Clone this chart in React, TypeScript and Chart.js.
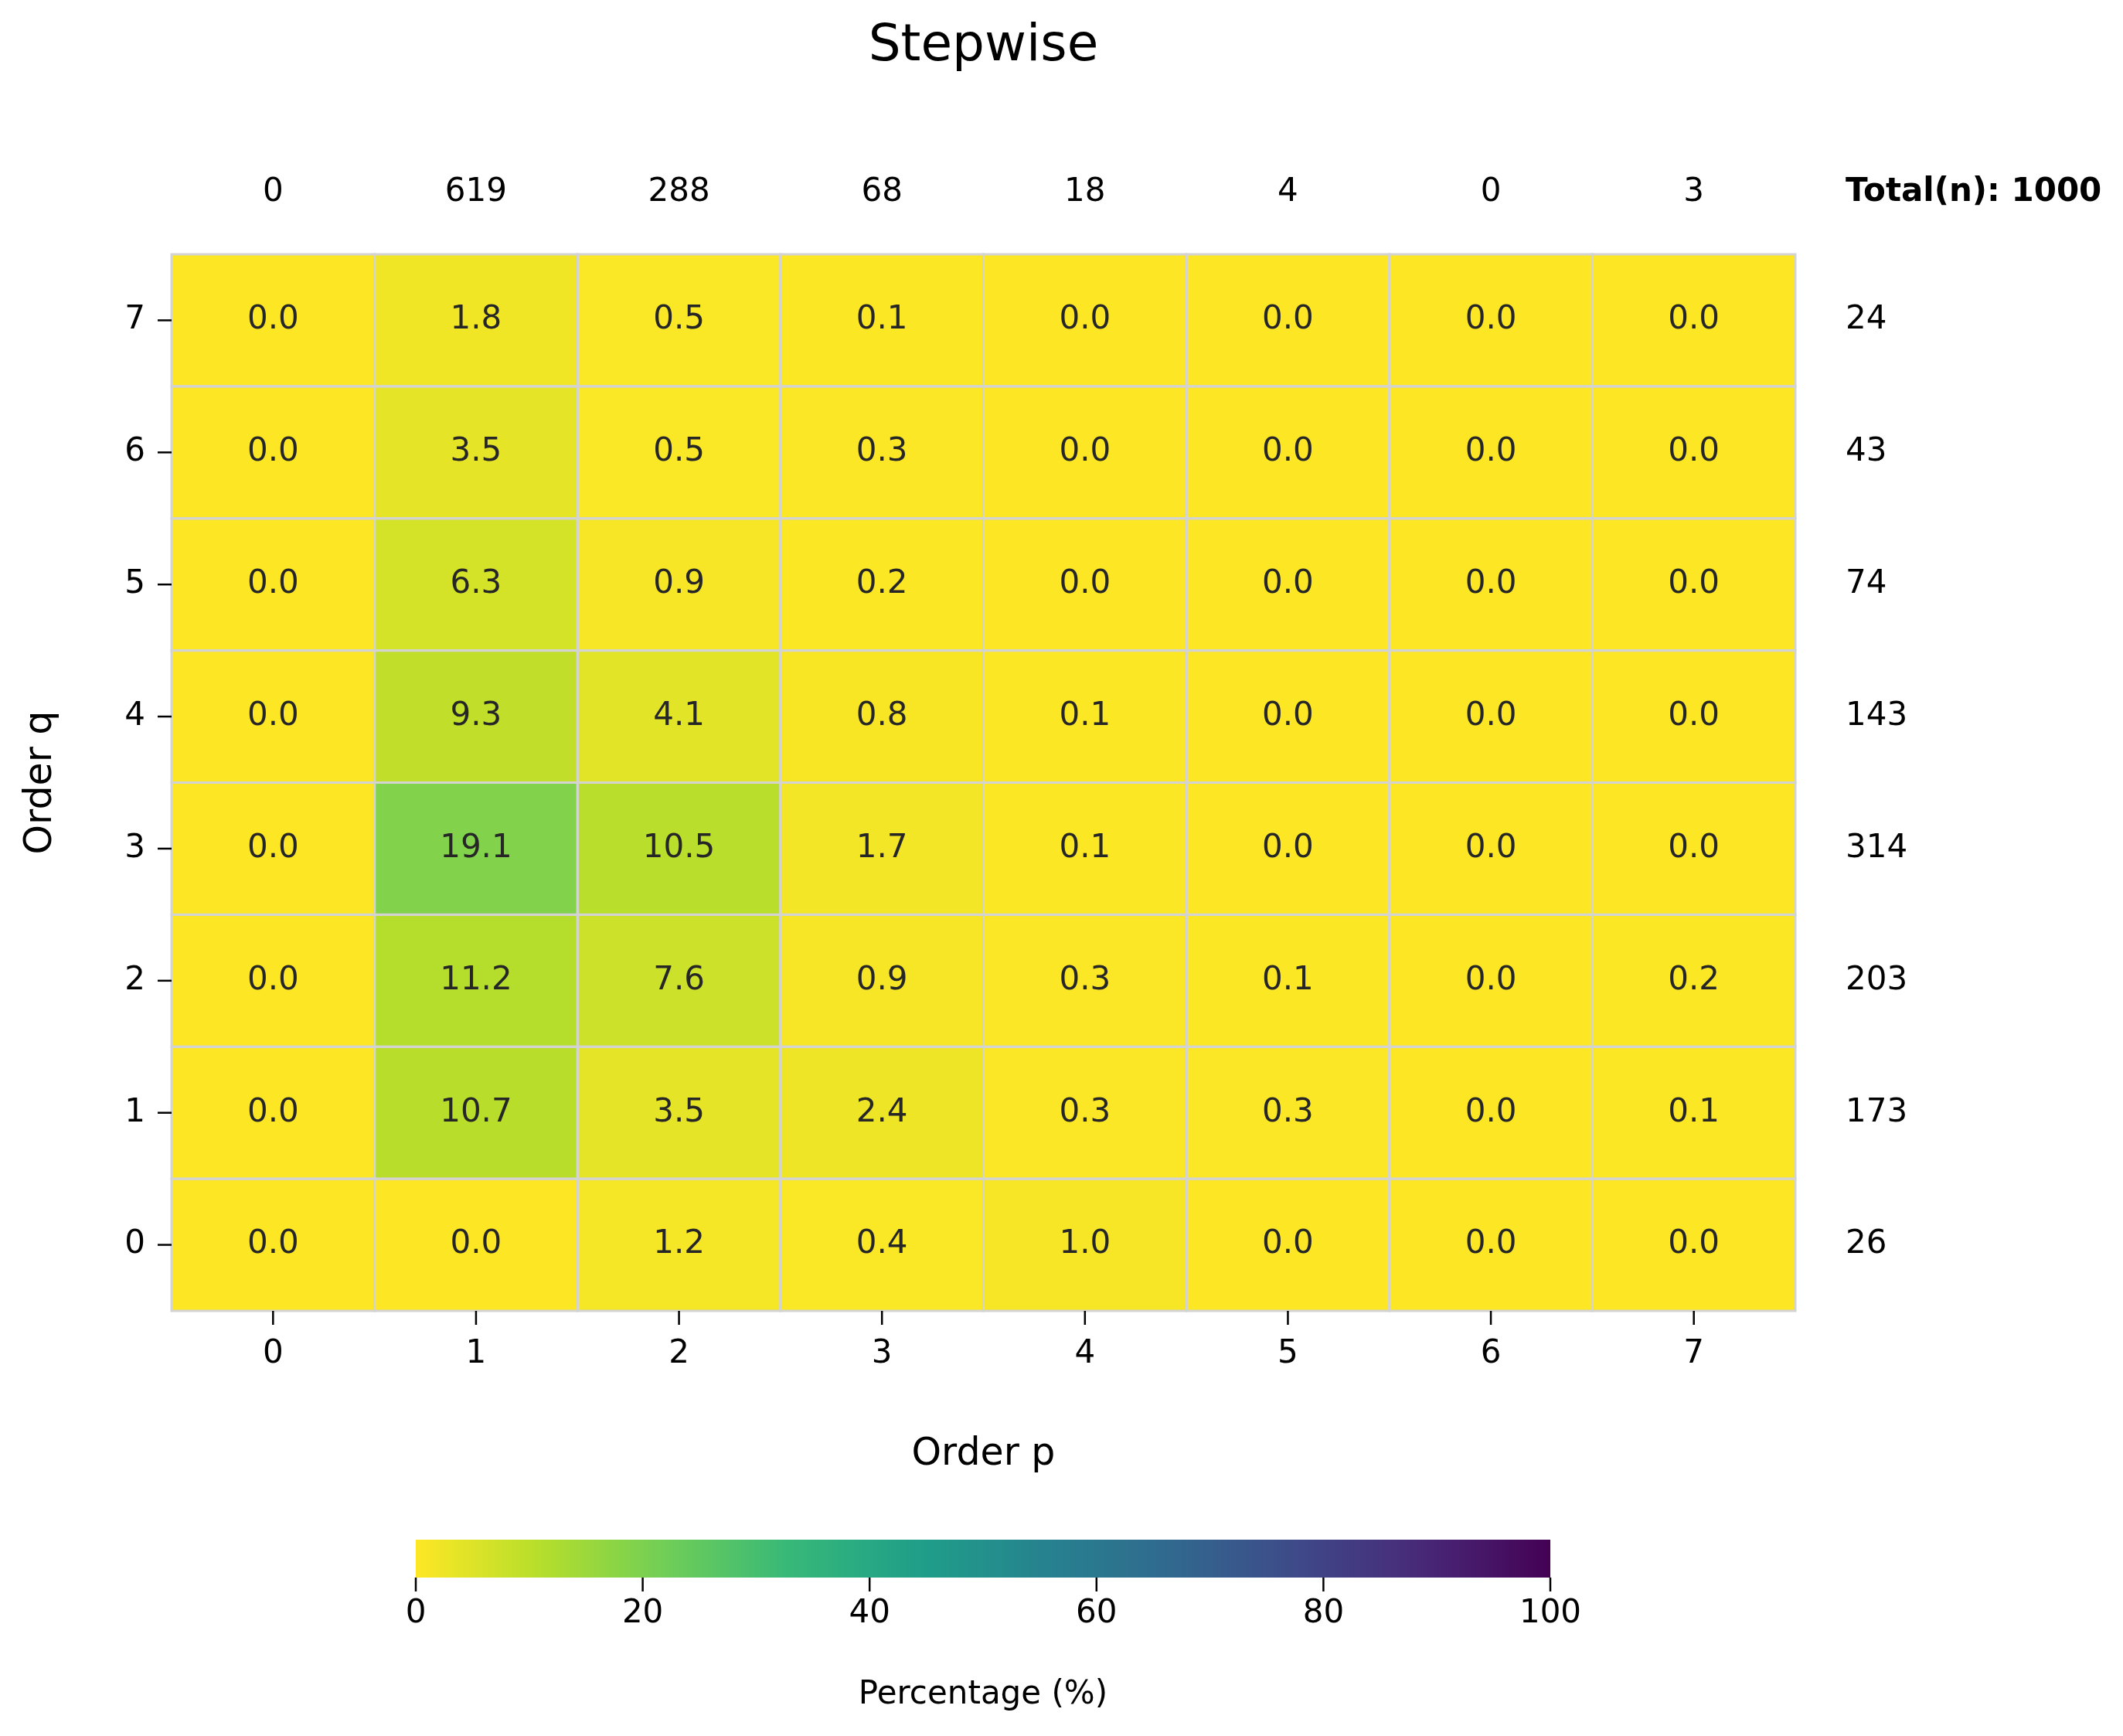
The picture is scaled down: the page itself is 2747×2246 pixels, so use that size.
import React, { useEffect, useRef } from "react";
import { Chart, registerables } from "chart.js";
Chart.register(...registerables);

const pLabels = ["0", "1", "2", "3", "4", "5", "6", "7"];
const qLabels = ["0", "1", "2", "3", "4", "5", "6", "7"];
// rows indexed by q (0..7), columns by p (0..7), percentages
const q0 = [0.0, 0.0, 1.2, 0.4, 1.0, 0.0, 0.0, 0.0];
const q1 = [0.0, 10.7, 3.5, 2.4, 0.3, 0.3, 0.0, 0.1];
const q2 = [0.0, 11.2, 7.6, 0.9, 0.3, 0.1, 0.0, 0.2];
const q3 = [0.0, 19.1, 10.5, 1.7, 0.1, 0.0, 0.0, 0.0];
const q4 = [0.0, 9.3, 4.1, 0.8, 0.1, 0.0, 0.0, 0.0];
const q5 = [0.0, 6.3, 0.9, 0.2, 0.0, 0.0, 0.0, 0.0];
const q6 = [0.0, 3.5, 0.5, 0.3, 0.0, 0.0, 0.0, 0.0];
const q7 = [0.0, 1.8, 0.5, 0.1, 0.0, 0.0, 0.0, 0.0];
const rows = [q0, q1, q2, q3, q4, q5, q6, q7];
const colTotals = [0, 619, 288, 68, 18, 4, 0, 3];
const rowTotals = [26, 173, 203, 314, 143, 74, 43, 24];
const grandTotal = 1000;
const cbTicks = [0, 20, 40, 60, 80, 100];

const VIR = ["#440154", "#482878", "#3e4989", "#31688e", "#26828e", "#1f9e89", "#35b779", "#6ece58", "#b5de2b", "#fde725"];
function hex(h: string) { return [1, 3, 5].map(i => parseInt(h.slice(i, i + 2), 16)); }
function viridis(t: number) {
  t = Math.max(0, Math.min(1, t));
  const f = t * (VIR.length - 1);
  const i = Math.min(Math.floor(f), VIR.length - 2);
  const a = hex(VIR[i]), b = hex(VIR[i + 1]);
  const r = f - i;
  const c = a.map((v, k) => Math.round(v + (b[k] - v) * r));
  return `rgb(${c[0]},${c[1]},${c[2]})`;
}
const colorFor = (v: number) => viridis(1 - v / 100);

const W = 2747, H = 2246;
const FONT = "'DejaVu Sans', sans-serif";

const heatPlugin = {
  id: "heat",
  afterDraw(chart: any) {
    const ctx = chart.ctx;
    const xs = chart.scales.x, ys = chart.scales.y;
    ctx.save();
    rows.forEach((row, q) => {
      row.forEach((v, p) => {
        const x0 = xs.getPixelForValue(p - 0.5), x1 = xs.getPixelForValue(p + 0.5);
        const y0 = ys.getPixelForValue(q + 0.5), y1 = ys.getPixelForValue(q - 0.5);
        ctx.fillStyle = colorFor(v);
        ctx.fillRect(x0, y0, x1 - x0, y1 - y0);
      });
    });
    ctx.strokeStyle = "#d3d3d3";
    ctx.lineWidth = 3;
    rows.forEach((row, q) => {
      row.forEach((v, p) => {
        const x0 = xs.getPixelForValue(p - 0.5), x1 = xs.getPixelForValue(p + 0.5);
        const y0 = ys.getPixelForValue(q + 0.5), y1 = ys.getPixelForValue(q - 0.5);
        ctx.strokeRect(x0, y0, x1 - x0, y1 - y0);
      });
    });
    ctx.fillStyle = "#262626";
    ctx.font = `42px ${FONT}`;
    ctx.textAlign = "center";
    ctx.textBaseline = "middle";
    rows.forEach((row, q) => row.forEach((v, p) => {
      ctx.fillText(v.toFixed(1), xs.getPixelForValue(p), ys.getPixelForValue(q));
    }));
    const area = chart.chartArea;
    ctx.fillStyle = "#000";
    colTotals.forEach((t, p) => ctx.fillText(String(t), xs.getPixelForValue(p), 249));
    ctx.textAlign = "left";
    rowTotals.forEach((t, q) => ctx.fillText(String(t), 2388, ys.getPixelForValue(q)));
    ctx.font = `bold 42px ${FONT}`;
    ctx.fillText(`Total(n): ${grandTotal}`, 2388, 249);
    ctx.font = `42px ${FONT}`;
    ctx.strokeStyle = "#000";
    ctx.lineWidth = 2.5;
    ctx.textAlign = "center";
    ctx.textBaseline = "middle";
    pLabels.forEach((l, p) => {
      const x = xs.getPixelForValue(p);
      ctx.beginPath(); ctx.moveTo(x, area.bottom); ctx.lineTo(x, area.bottom + 18); ctx.stroke();
      ctx.fillText(l, x, 1752);
    });
    ctx.textAlign = "right";
    qLabels.forEach((l, q) => {
      const y = ys.getPixelForValue(q);
      ctx.beginPath(); ctx.moveTo(area.left, y); ctx.lineTo(area.left - 18, y); ctx.stroke();
      ctx.fillText(l, 188, y);
    });
    ctx.font = `49px ${FONT}`;
    ctx.textAlign = "center";
    ctx.fillText("Order p", (area.left + area.right) / 2, 1882);
    ctx.save();
    ctx.translate(53, (area.top + area.bottom) / 2);
    ctx.rotate(-Math.PI / 2);
    ctx.fillText("Order q", 0, 0);
    ctx.restore();
    ctx.font = `66px ${FONT}`;
    ctx.fillText("Stepwise", (area.left + area.right) / 2, 61);
    const cbL = 538, cbR = 2006, cbT = 1992, cbB = 2041;
    const g = ctx.createLinearGradient(cbL, 0, cbR, 0);
    for (let i = 0; i <= 40; i++) g.addColorStop(i / 40, colorFor((i / 40) * 100));
    ctx.fillStyle = g;
    ctx.fillRect(cbL, cbT, cbR - cbL, cbB - cbT);
    ctx.fillStyle = "#000";
    ctx.font = `42px ${FONT}`;
    cbTicks.forEach(t => {
      const x = cbL + (cbR - cbL) * t / 100;
      ctx.beginPath(); ctx.moveTo(x, cbB); ctx.lineTo(x, cbB + 18); ctx.stroke();
      ctx.fillText(String(t), x, 2088);
    });
    ctx.fillText("Percentage (%)", (cbL + cbR) / 2, 2193);
    ctx.restore();
  },
};

export default function App() {
  const ref = useRef<HTMLCanvasElement>(null);
  useEffect(() => {
    const c = new Chart(ref.current!, {
      type: "scatter",
      data: { datasets: [{ data: [] }] },
      options: {
        animation: false,
        responsive: false,
        devicePixelRatio: 1,
        layout: { padding: { left: 222, right: 424, top: 329, bottom: 550 } },
        plugins: { legend: { display: false }, tooltip: { enabled: false } },
        scales: {
          x: { type: "linear", min: -0.5, max: 7.5, display: false },
          y: { type: "linear", min: -0.5, max: 7.5, display: false },
        },
      },
      plugins: [heatPlugin],
    });
    return () => c.destroy();
  }, []);
  return (
    <canvas ref={ref} width={W} height={H}
      style={{ position: "fixed", left: 0, top: 0, width: W, height: H, background: "#fff" }} />
  );
}
